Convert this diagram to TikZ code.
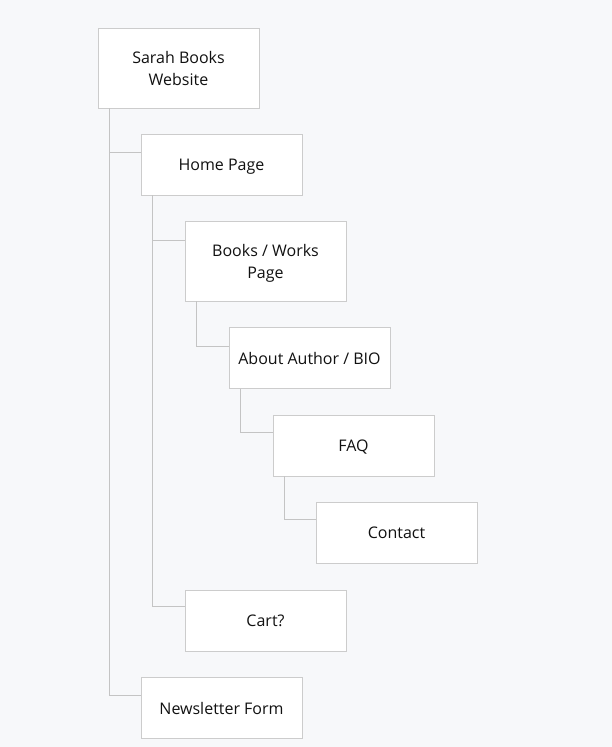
\documentclass[tikz,border=0pt]{standalone}
\usepackage{fontspec}
\setmainfont{Open Sans}
\definecolor{pagebg}{HTML}{F7F8FA}
\definecolor{boxline}{HTML}{CCCCCC}
\definecolor{treeline}{HTML}{C4C4C4}
\definecolor{boxtext}{HTML}{111111}

\begin{document}
\begin{tikzpicture}[x=1pt,y=-1pt]
  \tikzset{
    page/.style={
      draw,
      fill=white,
      draw=boxline,
      line width=0.9pt,
      minimum width=161pt,
      minimum height=61pt,
      inner sep=0pt,
      align=center,
      text=boxtext,
      text depth=0pt,
      font=\fontsize{16}{22}\selectfont
    },
    tall/.style={minimum height=80pt},
    link/.style={
      draw=treeline,
      line width=0.9pt
    }
  }

  \fill[pagebg] (0,0) rectangle (612,747);
  \useasboundingbox (0,0) rectangle (612,747);

  \node[page,tall] (site) at (178.5,68) {Sarah Books\\Website};
  \node[page] (home) at (221.5,164.5) {Home Page};
  \node[page,tall] (books) at (265.5,261) {Books / Works\\Page};
  \node[page] (about) at (309.5,358) {About Author / BIO};
  \node[page] (faq) at (353.5,445.5) {FAQ};
  \node[page] (contact) at (396.5,532.5) {Contact};
  \node[page] (cart) at (265.5,620.5) {Cart?};
  \node[page] (news) at (221.5,708) {Newsletter Form};

  % tree lines
  \path[link]
  ([xshift=12pt]site.south west) |- ([yshift=-19pt]home.north west)
  ([xshift=12pt]site.south west) |- ([yshift=-18pt]news.north west)
  ([xshift=12pt]home.south west) |- ([yshift=-20pt]books.north west)
  ([xshift=12pt]home.south west) |- ([yshift=-17pt]cart.north west)
  ([xshift=12pt]books.south west) |- ([yshift=-19pt]about.north west)
  ([xshift=12pt]about.south west) |- ([yshift=-18pt]faq.north west)
  ([xshift=12pt]faq.south west) |- ([yshift=-18pt]contact.north west);

\end{tikzpicture}
\end{document}
